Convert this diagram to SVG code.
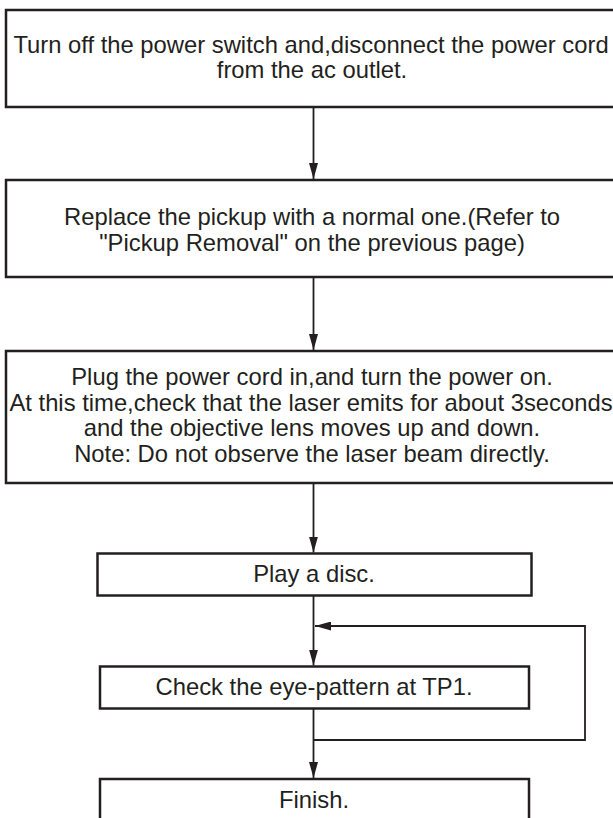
<svg xmlns="http://www.w3.org/2000/svg" width="613" height="818" viewBox="0 0 613 818">
<style>
.box{fill:#fff;stroke:#231f20;stroke-width:2.5}
.t{font-family:"Liberation Sans",Arial,sans-serif;font-size:23.8px;fill:#231f20;text-anchor:middle}
.c{fill:none;stroke:#231f20;stroke-width:1.8}
</style>
<defs>
<marker id="ah" markerWidth="16" markerHeight="9" refX="16" refY="4.5" orient="auto" markerUnits="userSpaceOnUse" viewBox="0 0 16 9">
<path d="M0,0 L16,4.5 L0,9 Z" fill="#231f20"/>
</marker>
</defs>
<rect width="613" height="818" fill="#fff"/>
<g id="n1">
<rect class="box" x="6" y="10" width="614" height="97"/>
<text class="t" x="311" y="53">Turn off the power switch and,disconnect the power cord</text>
<text class="t" x="312" y="78">from the ac outlet.</text>
</g>
<g id="n2">
<rect class="box" x="6" y="180" width="614" height="97"/>
<text class="t" x="312" y="225">Replace the pickup with a normal one.(Refer to</text>
<text class="t" x="312" y="251">"Pickup Removal" on the previous page)</text>
</g>
<g id="n3">
<rect class="box" x="6" y="351" width="614" height="132"/>
<text class="t" x="312" y="385">Plug the power cord in,and turn the power on.</text>
<text class="t" x="311" y="411">At this time,check that the laser emits for about 3seconds</text>
<text class="t" x="312" y="436">and the objective lens moves up and down.</text>
<text class="t" x="312" y="462">Note: Do not observe the laser beam directly.</text>
</g>
<g id="n4">
<rect class="box" x="97.5" y="553.5" width="434" height="42"/>
<text class="t" x="314" y="582">Play a disc.</text>
</g>
<g id="n5">
<rect class="box" x="100" y="666.5" width="429" height="42"/>
<text class="t" x="314" y="695">Check the eye-pattern at TP1.</text>
</g>
<g id="n6">
<rect class="box" x="100" y="779" width="429" height="60"/>
<text class="t" x="314" y="808">Finish.</text>
</g>
<g id="connectors">
<line class="c" x1="313.5" y1="107" x2="313.5" y2="179" marker-end="url(#ah)"/>
<line class="c" x1="313.5" y1="277" x2="313.5" y2="350" marker-end="url(#ah)"/>
<line class="c" x1="313.5" y1="483" x2="313.5" y2="552.5" marker-end="url(#ah)"/>
<line class="c" x1="313.5" y1="596" x2="313.5" y2="665.5" marker-end="url(#ah)"/>
<line class="c" x1="313.5" y1="709" x2="313.5" y2="778" marker-end="url(#ah)"/>
<polyline class="c" points="313.5,740 585,740 585,626 315,626" marker-end="url(#ah)"/>
</g>
</svg>
